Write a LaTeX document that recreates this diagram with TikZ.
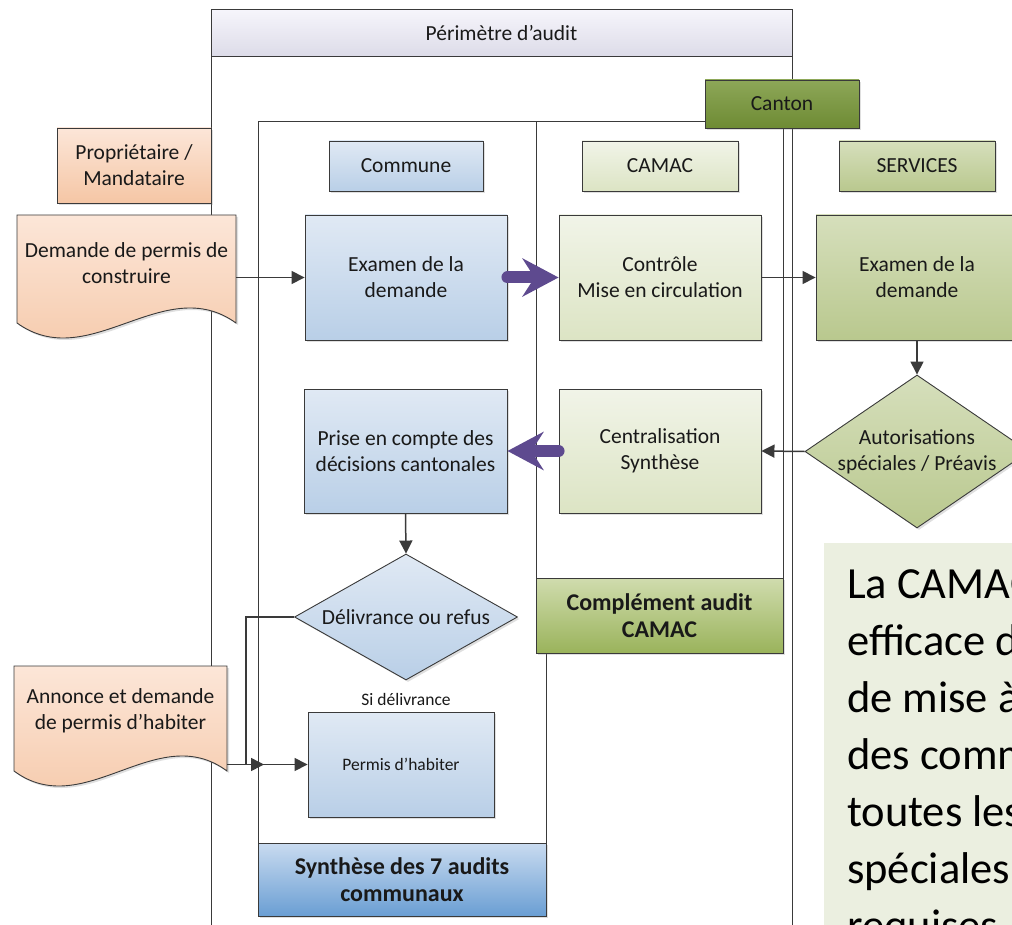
\documentclass[tikz,border=0pt]{standalone}
\usepackage{fontspec}
\setmainfont{Carlito}
\usepackage{tikz}
\usetikzlibrary{arrows.meta, positioning, shapes.geometric, shadows}
\definecolor{audLine}{HTML}{3A3A3A}
\definecolor{audPurple}{HTML}{5E4A8F}
\definecolor{audHeadTop}{HTML}{F6F5FB}
\definecolor{audHeadBot}{HTML}{DCDBE8}
\definecolor{audPeachTop}{HTML}{FCE6D8}
\definecolor{audPeachBot}{HTML}{F5C6A5}
\definecolor{audBlueTop}{HTML}{E0E9F4}
\definecolor{audBlueBot}{HTML}{B9CFE7}
\definecolor{audPaleTop}{HTML}{F1F4E8}
\definecolor{audPaleBot}{HTML}{DCE4C4}
\definecolor{audSageTop}{HTML}{D6DFBC}
\definecolor{audSageBot}{HTML}{B9C88E}
\definecolor{audOliveTop}{HTML}{8DA758}
\definecolor{audOliveBot}{HTML}{6E8B34}
\definecolor{audMossTop}{HTML}{D0DCAE}
\definecolor{audMossBot}{HTML}{9AB35B}
\definecolor{audSkyTop}{HTML}{C9DBF0}
\definecolor{audSkyBot}{HTML}{6A9ED3}
\definecolor{audNote}{HTML}{EBEFE0}

\newcommand{\audfont}{\fontsize{21.5}{26.2}\selectfont}
\newcommand{\audsmall}{\fontsize{17.5}{21.3}\selectfont}
\newcommand{\audbold}{\fontsize{24}{27.5}\selectfont\bfseries}
\newcommand{\audnote}{\fontsize{44.5}{57}\selectfont}

% wavy document shape: x1, y1 (top), x2, y2 (bottom at the edges)
\newcommand{\wavedoc}[4]{%
  \path[docshape] (#1,#2) -- (#3,#2) -- (#3,#4)
    .. controls ({#3-0.33*(#3-#1)},{#4-52}) and ({#1+0.33*(#3-#1)},{#4+52}) .. (#1,#4) -- cycle;}

\tikzset{
  softshadow/.style={drop shadow={shadow xshift=2pt, shadow yshift=-2pt, opacity=.25, fill=black!50}},
  flowbox/.style={rectangle, draw=audLine, line width=0.9pt, inner sep=0pt,
                  align=center, font=\audfont, text=black!90, softshadow},
  bluebox/.style={flowbox, top color=audBlueTop, bottom color=audBlueBot},
  palebox/.style={flowbox, top color=audPaleTop, bottom color=audPaleBot},
  sagebox/.style={flowbox, top color=audSageTop, bottom color=audSageBot},
  peachbox/.style={flowbox, top color=audPeachTop, bottom color=audPeachBot},
  olivebox/.style={flowbox, top color=audOliveTop, bottom color=audOliveBot},
  footbox/.style={flowbox, font=\audbold},
  decision/.style={diamond, draw=audLine, line width=0.9pt, inner sep=0pt, softshadow},
  headbar/.style={rectangle, draw=audLine, line width=1pt, inner sep=0pt, font=\audfont,
                  text=black!90, top color=audHeadTop, bottom color=audHeadBot},
  lanebox/.style={draw=audLine, line width=1pt, fill=white},
  docshape/.style={draw=audLine, line width=0.9pt, top color=audPeachTop,
                   bottom color=audPeachBot, softshadow},
  doctext/.style={inner sep=0pt, align=center, font=\audfont, text=black!90},
  notetext/.style={inner sep=0pt, align=left, font=\audnote, text=black},
  arr/.style={draw=audLine, line width=1.5pt, -{Triangle[length=13pt,width=13pt]}},
  bigarr/.style={draw=audPurple, line width=12pt, line cap=round,
                 -{Stealth[length=36pt,width=38pt,inset=12pt]}}
}

\begin{document}
\begin{tikzpicture}[x=1pt, y=-1pt]
  \useasboundingbox (0,0) rectangle (1012,925);
  \clip (0,0) rectangle (1012,925);

  % swimlanes
  \draw[lanebox] (211,10) rectangle (792,960);
  \node[headbar, minimum width=581pt, minimum height=47pt] (perimetre) at (501.5,33.5) {Périmètre d’audit};
  \draw[lanebox] (258,122) rectangle (546,916);
  \draw[lanebox] (536,122) rectangle (783,653);
  \node[footbox, top color=audSkyTop, bottom color=audSkyBot, minimum width=288pt, minimum height=73pt]
    (synthese) at (402,879.5) {Synthèse des 7 audits\\communaux};
  \node[footbox, top color=audMossTop, bottom color=audMossBot, minimum width=247pt, minimum height=75pt]
    (complement) at (659.5,615.5) {Complément audit\\CAMAC};
  \node[olivebox, minimum width=154pt, minimum height=48pt] (canton) at (782,104) {Canton};

  % note
  \fill[audNote] (824,543) rectangle (1040,960);
  \node[notetext, anchor=north west] (note) at (847,569)
    {La CAMAC\\efficace de\\de mise à\\des communes\\toutes les\\spéciales\\requises};

  % actors and headers
  \node[peachbox, minimum width=154pt, minimum height=75pt] (proprio) at (134,165.5) {Propriétaire /\\Mandataire};
  \node[bluebox, minimum width=154pt, minimum height=50pt] (commune) at (406,166) {Commune};
  \node[palebox, minimum width=156pt, minimum height=50pt] (camac) at (660,166) {CAMAC};
  \node[sagebox, minimum width=156pt, minimum height=50pt] (services) at (917,166) {SERVICES};

  % documents
  \wavedoc{17}{215}{236}{323}
  \node[doctext, minimum width=219pt, minimum height=97pt] (demande) at (126.5,263.5) {Demande de permis de\\construire};
  \wavedoc{14}{666}{227}{771}
  \node[doctext, minimum width=213pt, minimum height=90pt] (habiter) at (120.5,711) {Annonce et demande\\de permis d’habiter};

  % process
  \node[bluebox, minimum width=202pt, minimum height=125pt] (examC) at (406,277.5) {Examen de la\\demande};
  \node[palebox, minimum width=202pt, minimum height=125pt] (controle) at (660,277.5) {Contrôle\\Mise en circulation};
  \node[sagebox, minimum width=202pt, minimum height=125pt] (examS) at (917,277.5) {Examen de la\\demande};
  \node[decision, top color=audSageTop, bottom color=audSageBot, minimum width=224pt, minimum height=153pt,
        label={[font=\audfont, align=center, text=black!90]center:Autorisations\\spéciales / Préavis}]
    (autor) at (917,451.5) {};
  \node[palebox, minimum width=202pt, minimum height=124pt] (central) at (660,451) {Centralisation\\Synthèse};
  \node[bluebox, minimum width=203pt, minimum height=124pt] (prise) at (405.5,451) {Prise en compte des\\décisions cantonales};
  \node[decision, top color=audBlueTop, bottom color=audBlueBot, minimum width=223pt, minimum height=126pt,
        label={[font=\audfont, text=black!90]center:Délivrance ou refus}]
    (delivr) at (406,617) {};
  \node[font=\audsmall, text=black!90] (sidel) at (406,699) {Si délivrance};
  \node[bluebox, font=\audsmall, minimum width=186pt, minimum height=105pt] (permis) at (401,764.5) {Permis d’habiter};
  \coordinate (habEnd) at (264,764.5);

  % connectors
  \draw[arr] (demande.east |- examC.west) -- (examC.west);
  \draw[bigarr] (examC.east) -- (controle.west);
  \draw[arr] (controle.east) -- (examS.west);
  \draw[arr] (examS.south) -- (autor.north);
  \draw[arr] (autor.west) -- (central.east);
  \draw[bigarr] (central.west) -- (prise.east);
  \draw[arr] (prise.south) -- (delivr.north);
  \draw[arr] (delivr.west) -- ++(-48,0) |- (permis.west);
  \draw[arr] (habiter.east |- permis.west) -- (habEnd);
\end{tikzpicture}
\end{document}
